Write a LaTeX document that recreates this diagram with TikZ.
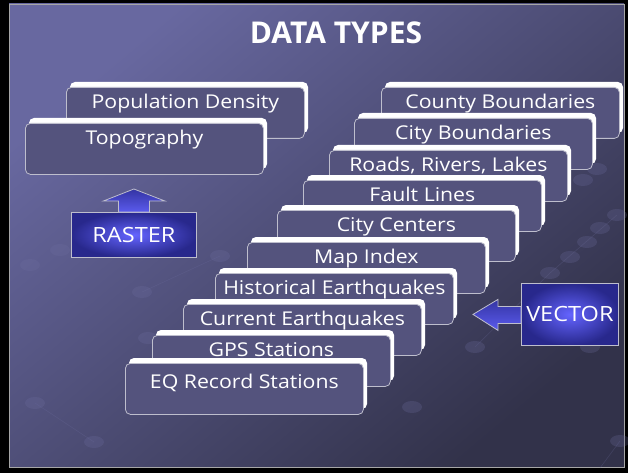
\documentclass[tikz,border=0pt]{standalone}
\usepackage{fontspec}
\setmainfont{Open Sans}
\newfontfamily\boxfont[FakeStretch=1.12]{Open Sans}
\usetikzlibrary{calc}
\definecolor{boxfill}{RGB}{84,83,125}
\definecolor{boxline}{RGB}{190,190,205}
\definecolor{bgA}{RGB}{104,104,160}
\definecolor{bgB}{RGB}{50,50,74}
\definecolor{dotc}{RGB}{110,110,160}
\definecolor{blueIn}{RGB}{100,100,255}
\definecolor{blueOut}{RGB}{40,40,140}
\tikzset{
  dbox/.style={draw=boxline, line width=0.8pt, fill=boxfill, rounded corners=5pt,
    minimum width=238pt, minimum height=51pt, inner sep=0pt, anchor=north west},
  dtext/.style={text=white, font=\boxfont\fontsize{19}{21}\selectfont, anchor=base, inner sep=0pt},
  kindbox/.style={draw=boxline, line width=0.8pt, inner color=blueIn, outer color=blueOut,
    inner sep=0pt, text=white, font=\boxfont\fontsize{21}{23}\selectfont},
  kindarrow/.style={draw=boxline, line width=0.8pt, top color=blueOut!80!blueIn, bottom color=blueIn!85!blueOut},
  dot/.style={fill=dotc, opacity=0.25},
  gridline/.style={draw=dotc, opacity=0.25, line width=0.6pt}
}
\newcommand{\databox}[5]{%
  \fill[white, rounded corners=5pt] (#2+4,#3-5) rectangle ++(238,51);
  \node[dbox] (#1) at (#2,#3) {};
  \node[dtext] (#1t) at ($(#1.north)+(0,#5)$) {#4};
}
\begin{document}
\begin{tikzpicture}[x=1pt,y=-1pt]
\useasboundingbox (0,0) rectangle (628,473);
\fill[black] (0,0) rectangle (628,473);
\shade[top color=bgA, bottom color=bgB, shading angle=40] (9,4) rectangle (624,467);
\draw[gray!70, line width=0.6pt] (9,4) rectangle (624,467);
% faint background pattern
\draw[gridline] (35,403) -- (94,442);
\draw[gridline] (617,215) -- (550,273) -- (475,347);
\draw[gridline] (620,441) -- (600,468);
\draw[gridline] (142,292) -- (220,256);
\foreach \p in {(35,403),(94,442),(620,441),(597,169),(583,180),(617,215),(600,228),(587,242),(570,257),(550,273),(475,347),(590,347),(142,292),(220,256),(148,338),(412,407),(60,250),(30,265)}
  \fill[dot] \p ellipse (10 and 6);
% title
\node[text=white, font=\fontsize{30}{32}\selectfont\bfseries] (title) at (336,33) {DATA TYPES};
% raster group
\databox{pop}{66}{87}{Population Density}{21.5}
\databox{topo}{25}{123}{Topography}{21.5}
\node[kindbox, minimum width=125pt, minimum height=45pt, anchor=north west] (raster) at (71,212) {RASTER};
\draw[kindarrow] ($(raster.north)+(-15.5,0)$) -- ++(0,-11) -- ++(-15,0) -- ($(raster.north)+(0,-23)$)
  -- ($(raster.north)+(31,-11)$) -- ++(-15.5,0) -- ($(raster.north)+(15.5,0)$) -- cycle;
% vector group
\databox{county}{381}{87}{County Boundaries}{21.5}
\databox{cityb}{354}{118}{City Boundaries}{21.5}
\databox{roads}{329}{150}{Roads, Rivers, Lakes}{21.5}
\databox{fault}{303}{180}{Fault Lines}{21.5}
\databox{centers}{277}{210}{City Centers}{21.5}
\databox{mapidx}{247}{242}{Map Index}{21.5}
\databox{hist}{215}{273}{Historical Earthquakes}{21.5}
\databox{curr}{183}{304}{Current Earthquakes}{21.5}
\databox{gps}{152}{335}{GPS Stations}{21.5}
\databox{eq}{125}{363}{EQ Record Stations}{25}
\node[kindbox, minimum width=97pt, minimum height=62pt, anchor=north west] (vector) at (521,283) {VECTOR};
\draw[kindarrow] ($(vector.west)+(0,-8)$) -- ++(-23,0) -- ++(0,-7) -- ($(vector.west)+(-48,0)$)
  -- ($(vector.west)+(-23,16)$) -- ++(0,-7) -- ($(vector.west)+(0,9)$) -- cycle;
\end{tikzpicture}
\end{document}
